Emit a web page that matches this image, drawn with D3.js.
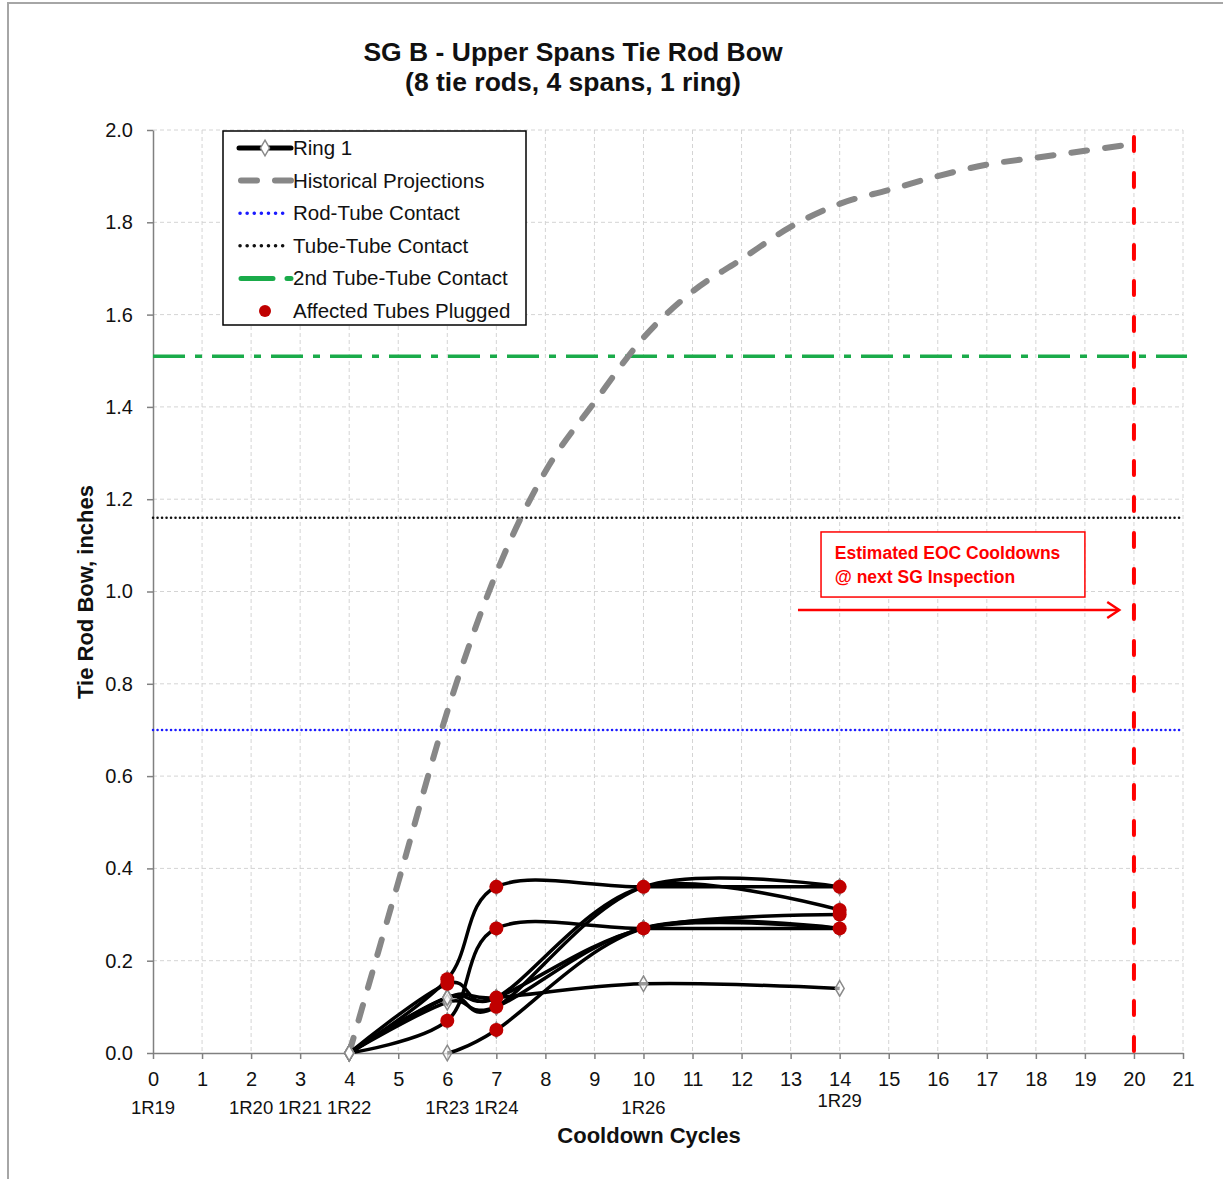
<!DOCTYPE html>
<html>
<head>
<meta charset="utf-8">
<script src="https://cdn.jsdelivr.net/npm/d3@7"></script>
<style>
  body { margin: 0; background: #fff; }
  text { font-family: "Liberation Sans", Arial, sans-serif; fill: #111; }
</style>
</head>
<body>
<div id="chart"></div>
<script>
// cycles on x, bow (inches) on y
const cycleTicks = d3.range(0, 22);
const bowTicks = [0, 0.2, 0.4, 0.6, 0.8, 1.0, 1.2, 1.4, 1.6, 1.8, 2.0];
const outageLabels = ["1R19", "1R20", "1R21", "1R22", "1R23", "1R24", "1R26", "1R29"];
const outageCycles = [0, 2, 3, 4, 6, 7, 10, 14];

// Ring 1 tie rods (cycle, bow)
const rod1 = [[4, 0], [6, 0.16], [7, 0.36], [10, 0.36], [14, 0.36]];
const rod2 = [[4, 0], [6, 0.07], [7, 0.27], [10, 0.27], [14, 0.27]];
const rod3 = [[4, 0], [6, 0.15], [7, 0.12], [10, 0.36], [14, 0.31]];
const rod4 = [[4, 0], [6, 0.12], [7, 0.10], [10, 0.36], [14, 0.36]];
const rod5 = [[4, 0], [6, 0.12], [7, 0.12], [10, 0.27], [14, 0.30]];
const rod6 = [[4, 0], [6, 0.11], [7, 0.10], [10, 0.27], [14, 0.27]];
const rod7 = [[6, 0], [7, 0.05], [10, 0.27], [14, 0.27]];
const rod8 = [[4, 0], [6, 0.12], [7, 0.12], [10, 0.15], [14, 0.14]];
const rods = [rod1, rod2, rod3, rod4, rod5, rod6, rod7, rod8];

// plugged tube points
const plugged = [[6, 0.16], [6, 0.15], [6, 0.07], [7, 0.36], [7, 0.27], [7, 0.12], [7, 0.10], [7, 0.05],
                 [10, 0.36], [10, 0.27], [14, 0.36], [14, 0.31], [14, 0.30], [14, 0.27]];

const projCycles = [4, 5, 6, 7, 8, 9, 10, 11, 12, 13, 14, 15, 16, 17, 18, 19, 20];
const projBow = [0, 0.37, 0.74, 1.04, 1.26, 1.41, 1.55, 1.65, 1.72, 1.79, 1.84, 1.87, 1.90, 1.925, 1.94, 1.955, 1.97];

const rodTubeContact = 0.70;
const tubeTubeContact = 1.16;
const tube2Contact = 1.51;
const nextInspection = 20;

const width = 1223, height = 1179;

const svg = d3.select("#chart")
    .append("svg")
    .attr("width", width)
    .attr("height", height);

// page frame
svg.append("path")
    .attr("d", "M8,1179 V3 H1223")
    .attr("fill", "none")
    .attr("stroke", "#a6a6a6")
    .attr("stroke-width", 2);

const x = d3.scaleLinear().domain([0, 21]).range([153, 1183]);
const y = d3.scaleLinear().domain([0, 2]).range([1053, 130]);

// grid
const grid = svg.append("g").attr("stroke", "#d4d4d4").attr("stroke-dasharray", "4,3").attr("stroke-width", 1);
grid.selectAll(".gx")
    .data(cycleTicks.slice(1))
    .join("line")
    .attr("x1", d => x(d)).attr("x2", d => x(d))
    .attr("y1", y(2)).attr("y2", y(0));
grid.selectAll(".gy")
    .data(bowTicks.slice(1))
    .join("line")
    .attr("x1", x(0)).attr("x2", x(21))
    .attr("y1", d => y(d)).attr("y2", d => y(d));

// axes
const xAxis = d3.axisBottom(x).tickValues(cycleTicks).tickSize(6).tickSizeOuter(0).tickPadding(13);
const yAxis = d3.axisLeft(y).tickValues(bowTicks).tickFormat(d3.format(".1f")).tickSize(6).tickSizeOuter(0).tickPadding(14);

const gx = svg.append("g")
    .attr("transform", `translate(0,${y(0)})`)
    .call(xAxis);
const gy = svg.append("g")
    .attr("transform", `translate(${x(0)},0)`)
    .call(yAxis);
[gx, gy].forEach(g => {
    g.select(".domain").attr("stroke", "#808080").attr("stroke-width", 1.5);
    g.selectAll(".tick line").attr("stroke", "#808080").attr("stroke-width", 1.5);
    g.selectAll(".tick text").attr("font-size", 20).attr("font-family", "Liberation Sans, Arial").attr("fill", "#111");
});

// outage labels under cycle numbers
svg.selectAll(".outage")
    .data(outageLabels)
    .join("text")
    .attr("class", "outage")
    .attr("x", (d, i) => x(outageCycles[i]))
    .attr("y", d => d === "1R29" ? 1107 : 1114)
    .attr("text-anchor", "middle")
    .attr("font-size", 18.5)
    .text(d => d);

// reference lines
svg.append("line")
    .attr("x1", x(0)).attr("x2", x(21))
    .attr("y1", y(rodTubeContact)).attr("y2", y(rodTubeContact))
    .attr("stroke", "#1a1aff").attr("stroke-width", 2.5)
    .attr("stroke-dasharray", "0.1,4.4").attr("stroke-linecap", "round");
svg.append("line")
    .attr("x1", x(0)).attr("x2", x(21))
    .attr("y1", y(tubeTubeContact)).attr("y2", y(tubeTubeContact))
    .attr("stroke", "#111").attr("stroke-width", 2.5)
    .attr("stroke-dasharray", "0.1,4.4").attr("stroke-linecap", "round");
svg.append("line")
    .attr("x1", x(0)).attr("x2", x(21) + 4)
    .attr("y1", y(tube2Contact)).attr("y2", y(tube2Contact))
    .attr("stroke", "#1aab4a").attr("stroke-width", 3.5)
    .attr("stroke-dasharray", "32,10,7,10");

// historical projection
const line = d3.line()
    .x(d => x(d[0]))
    .y(d => y(d[1]))
    .curve(d3.curveCatmullRom.alpha(0));

svg.append("path")
    .datum(projCycles.map((c, i) => [c, projBow[i]]))
    .attr("d", line)
    .attr("fill", "none")
    .attr("stroke", "#878787")
    .attr("stroke-width", 6)
    .attr("stroke-linecap", "round")
    .attr("stroke-dasharray", "16,18");

// tie rod lines
svg.selectAll(".rod")
    .data(rods)
    .join("path")
    .attr("class", "rod")
    .attr("d", line)
    .attr("fill", "none")
    .attr("stroke", "#000")
    .attr("stroke-width", 3.5);

const diamond = d3.symbol().type(d3.symbolDiamond).size(70);
svg.selectAll(".mark")
    .data(rods.flat())
    .join("path")
    .attr("class", "mark")
    .attr("transform", d => `translate(${x(d[0])},${y(d[1])})`)
    .attr("d", diamond)
    .attr("fill", "#fff")
    .attr("fill-opacity", 0.6)
    .attr("stroke", "#8a8a8a")
    .attr("stroke-width", 1.5);

svg.selectAll(".plug")
    .data(plugged)
    .join("circle")
    .attr("class", "plug")
    .attr("cx", d => x(d[0]))
    .attr("cy", d => y(d[1]))
    .attr("r", 7)
    .attr("fill", "#c00000");

// next inspection marker
svg.append("line")
    .attr("x1", x(nextInspection)).attr("x2", x(nextInspection))
    .attr("y1", y(1.985)).attr("y2", y(0))
    .attr("stroke", "#ff0000").attr("stroke-width", 4)
    .attr("stroke-linecap", "round")
    .attr("stroke-dasharray", "14,22");

// annotation box + arrow
const note = svg.append("g");
note.append("rect")
    .attr("x", x(13.62)).attr("y", y(1.129))
    .attr("width", x(19.0) - x(13.62)).attr("height", y(0.988) - y(1.129))
    .attr("fill", "#fff").attr("stroke", "#ff0000").attr("stroke-width", 1.5);
note.selectAll("text")
    .data(["Estimated EOC Cooldowns", "@ next SG Inspection"])
    .join("text")
    .attr("x", x(13.9))
    .attr("y", (d, i) => y(1.129) + 27 + i * 24)
    .attr("font-family", "Lato, 'Open Sans', sans-serif")
    .attr("font-weight", "bold")
    .attr("font-size", 17.5)
    .style("fill", "#ff0000")
    .text(d => d);
note.append("line")
    .attr("x1", x(13.15)).attr("x2", x(19.7))
    .attr("y1", y(0.96)).attr("y2", y(0.96))
    .attr("stroke", "#ff0000").attr("stroke-width", 2.5);
note.append("path")
    .attr("d", `M${x(19.7) - 12},${y(0.96) - 8} L${x(19.7)},${y(0.96)} L${x(19.7) - 12},${y(0.96) + 8}`)
    .attr("fill", "none").attr("stroke", "#ff0000").attr("stroke-width", 2.5);

// titles
svg.selectAll(".title")
    .data(["SG B - Upper Spans Tie Rod Bow", "(8 tie rods, 4 spans, 1 ring)"])
    .join("text")
    .attr("class", "title")
    .attr("x", 573)
    .attr("y", (d, i) => 61 + i * 30)
    .attr("text-anchor", "middle")
    .attr("font-weight", "bold")
    .attr("font-size", 26.5)
    .text(d => d);

svg.append("text")
    .attr("x", 649).attr("y", 1143)
    .attr("text-anchor", "middle")
    .attr("font-weight", "bold").attr("font-size", 22)
    .text("Cooldown Cycles");

svg.append("text")
    .attr("transform", `translate(93,592) rotate(-90)`)
    .attr("text-anchor", "middle")
    .attr("font-weight", "bold").attr("font-size", 22)
    .text("Tie Rod Bow, inches");

// legend
const legend = svg.append("g").attr("transform", "translate(223,131)");
legend.append("rect")
    .attr("width", 303).attr("height", 194)
    .attr("fill", "#fff").attr("stroke", "#000").attr("stroke-width", 1.5);

const legendItems = ["Ring 1", "Historical Projections", "Rod-Tube Contact", "Tube-Tube Contact", "2nd Tube-Tube Contact", "Affected Tubes Plugged"];
const rows = legend.selectAll(".row")
    .data(legendItems)
    .join("g")
    .attr("transform", (d, i) => `translate(0,${17 + i * 32.6})`);

rows.append("text")
    .attr("x", 70).attr("y", 7)
    .attr("font-size", 20.5)
    .text(d => d);

const r0 = rows.filter((d, i) => i === 0);
r0.append("line").attr("x1", 16).attr("x2", 68).attr("stroke", "#000").attr("stroke-width", 5).attr("stroke-linecap", "round");
r0.append("path").attr("transform", "translate(42,0)").attr("d", diamond).attr("fill", "#fff").attr("stroke", "#8a8a8a").attr("stroke-width", 1.5);

rows.filter((d, i) => i === 1).append("line")
    .attr("x1", 18).attr("x2", 68).attr("stroke", "#878787").attr("stroke-width", 6)
    .attr("stroke-linecap", "round").attr("stroke-dasharray", "16,18");
rows.filter((d, i) => i === 2).append("line")
    .attr("x1", 17).attr("x2", 66).attr("stroke", "#1a1aff").attr("stroke-width", 3.5)
    .attr("stroke-linecap", "round").attr("stroke-dasharray", "0.1,7");
rows.filter((d, i) => i === 3).append("line")
    .attr("x1", 17).attr("x2", 66).attr("stroke", "#111").attr("stroke-width", 3.5)
    .attr("stroke-linecap", "round").attr("stroke-dasharray", "0.1,7");
rows.filter((d, i) => i === 4).append("line")
    .attr("x1", 18).attr("x2", 68).attr("stroke", "#1aab4a").attr("stroke-width", 5)
    .attr("stroke-linecap", "round").attr("stroke-dasharray", "32,14");
rows.filter((d, i) => i === 5).append("circle")
    .attr("cx", 42).attr("r", 6).attr("fill", "#c00000");
</script>
</body>
</html>
